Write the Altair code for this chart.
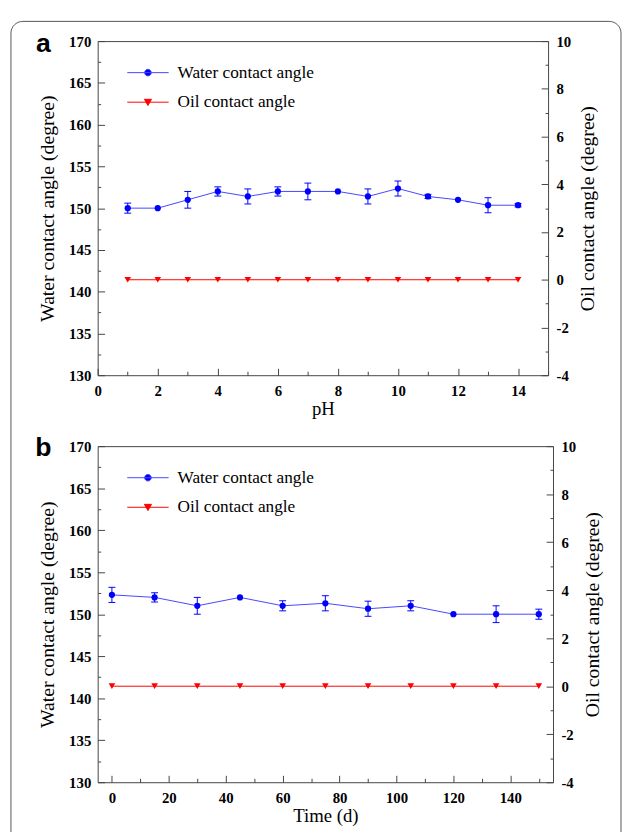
import altair as alt
import pandas as pd

# ---------------- data ----------------
SERIES = ["Water contact angle", "Oil contact angle"]

PH = [1, 2, 3, 4, 5, 6, 7, 8, 9, 10, 11, 12, 13, 14]
PH_WATER = [150.0, 150.0, 151.0, 152.0, 151.4, 152.0, 152.0, 152.0, 151.4, 152.35, 151.4, 151.0, 150.35, 150.35]
PH_WATER_ERR = [0.6, 0.0, 1.0, 0.55, 0.9, 0.55, 1.0, 0.0, 0.9, 0.9, 0.25, 0.0, 0.9, 0.2]
PH_OIL = [0, 0, 0, 0, 0, 0, 0, 0, 0, 0, 0, 0, 0, 0]

DAYS = [0, 15, 30, 45, 60, 75, 90, 105, 120, 135, 150]
DAY_WATER = [152.3, 152.0, 151.0, 152.0, 151.0, 151.3, 150.65, 151.0, 150.0, 150.0, 150.0]
DAY_WATER_ERR = [0.9, 0.55, 1.0, 0.0, 0.6, 0.9, 0.9, 0.6, 0.0, 1.0, 0.6]
DAY_OIL = [0, 0, 0, 0, 0, 0, 0, 0, 0, 0, 0]

PH_TICKS = [0, 1, 2, 3, 4, 5, 6, 7, 8, 9, 10, 11, 12, 13, 14, 15]
DAY_TICKS = [0, 10, 20, 30, 40, 50, 60, 70, 80, 90, 100, 110, 120, 130, 140, 150]
WATER_TICKS = [130, 132.5, 135, 137.5, 140, 142.5, 145, 147.5, 150, 152.5,
               155, 157.5, 160, 162.5, 165, 167.5, 170]
OIL_TICKS = [-4, -3, -2, -1, 0, 1, 2, 3, 4, 5, 6, 7, 8, 9, 10]

# ---------------- styling ----------------
SERIF = "Liberation Serif"
BLUE = "#0000ff"
LINE_BLUE = "#4646ff"
RED = "#ff0000"
FRAME = "#444444"

WATER_SYM = "M-2,0H2M0.32,0A0.32,0.32,0,1,1,-0.32,0A0.32,0.32,0,1,1,0.32,0Z"
OIL_SYM = "M-2,0H2M-0.34,-0.28L0.34,-0.28L0,0.32Z"

COMMON = dict(offset=-7, tickSize=7, domain=False, grid=False, tickColor=FRAME,
              tickWidth=1, labelFont=SERIF, labelFontWeight="bold", labelFontSize=15,
              labelColor="black", labelOverlap=False, labelFlush=False,
              titleFont=SERIF, titleFontWeight="normal", titleColor="black")


def minor_dash(step, gap, dash):
    return {"condition": {"test": f"datum.value % {step} !== 0", "value": [0, gap, dash, 0]},
            "value": [7, 0]}


def panel(xs, water, err, oil, xticks, major, xdomain, xtitle, letter, width, height,
          letter_y, frame):
    df = pd.DataFrame({"x": xs, "w": water, "e": err, "o": oil})
    df["lo"] = df["w"] - df["e"]
    df["hi"] = df["w"] + df["e"]

    X = alt.X("x:Q", scale=alt.Scale(domain=xdomain, nice=False, zero=False),
              axis=alt.Axis(values=xticks,
                            labelExpr=f"datum.value % {major} === 0 ? format(datum.value, 'd') : ''",
                            tickDash=minor_dash(major, 3, 4), labelPadding=9,
                            title=xtitle, titlePadding=1, titleFontSize=19, **COMMON))

    def Yw(field):
        return alt.Y(f"{field}:Q", scale=alt.Scale(domain=[130, 170], nice=False, zero=False),
                     axis=alt.Axis(orient="left", values=WATER_TICKS,
                                   labelExpr="datum.value % 5 === 0 ? format(datum.value, 'd') : ''",
                                   tickDash=minor_dash(5, 4, 3), labelPadding=7,
                                   title="Water contact angle (degree)", titleAngle=270,
                                   titleX=-58, titleY=height / 2, titleAlign="center",
                                   titleBaseline="middle", titleFontSize=20, **COMMON))

    Yo = alt.Y("o:Q", scale=alt.Scale(domain=[-4, 10], nice=False, zero=False),
               axis=alt.Axis(orient="right", values=OIL_TICKS,
                             labelExpr="datum.value % 2 === 0 ? '' + datum.value : ''",
                             tickDash=minor_dash(2, 4, 3), labelPadding=8,
                             title="Oil contact angle (degree)", titleAngle=270,
                             titleX=47, titleY=height / 2, titleAlign="center",
                             titleBaseline="middle", titleFontSize=20, **COMMON))

    base = alt.Chart(df)
    line = base.mark_line(color=LINE_BLUE, strokeWidth=1).encode(x=X, y=Yw("w"))
    bars = base.transform_filter("datum.e > 0").mark_rule(color=BLUE, strokeWidth=1).encode(
        x=X, y=Yw("lo"), y2="hi:Q")
    caps = base.transform_filter("datum.e > 0").transform_fold(
        ["lo", "hi"], as_=["k", "v"]).mark_tick(
        color=BLUE, orient="horizontal", size=7, thickness=1, opacity=1).encode(x=X, y=Yw("v"))
    pts = base.mark_point(filled=True, shape="circle", size=40, color=BLUE, opacity=1).encode(
        x=X, y=Yw("w"))

    leg_props = dict(orient="none", legendX=40, legendY=21, title=None, padding=0,
                     labelFont=SERIF, labelFontSize=17.5, labelColor="black",
                     labelOffset=19, rowPadding=10, symbolStrokeWidth=1, symbolSize=441)
    legend = alt.Chart(pd.DataFrame({"s": SERIES})).transform_filter("false").mark_point(
        filled=True, size=441, opacity=1, strokeWidth=1).encode(
        color=alt.Color("s:N", scale=alt.Scale(domain=SERIES, range=[BLUE, RED]),
                        legend=alt.Legend(**leg_props)),
        stroke=alt.Stroke("s:N", scale=alt.Scale(domain=SERIES, range=[LINE_BLUE, RED]),
                          legend=alt.Legend(**leg_props)),
        shape=alt.Shape("s:N", scale=alt.Scale(domain=SERIES, range=[WATER_SYM, OIL_SYM]),
                        legend=alt.Legend(**leg_props)),
    )

    letter_txt = alt.Chart(pd.DataFrame({"t": [letter]})).mark_text(
        font="Liberation Sans", fontWeight="bold", fontSize=27, align="center",
        baseline="alphabetic", color="black").encode(
        text="t:N", x=alt.value(-55), y=alt.value(letter_y))

    layers = []
    if frame:
        layers.append(alt.Chart(pd.DataFrame({"k": [0]})).mark_rect(
            fill="white", fillOpacity=0, stroke="#555555", strokeWidth=1,
            cornerRadius=12).encode(x=alt.value(-88), x2=alt.value(531),
                                    y=alt.value(-20), y2=alt.value(870)))
    layers += [line, bars, caps, pts, legend, letter_txt]
    water_group = alt.layer(*layers)

    oil_line = base.mark_line(color=RED, strokeWidth=1).encode(x=X, y=Yo)
    oil_pts = base.mark_point(filled=True, shape="triangle-down", size=45, color=RED,
                              opacity=1).encode(x=X, y=Yo)
    oil_group = alt.layer(oil_line, oil_pts)

    return alt.layer(water_group, oil_group).resolve_scale(y="independent").properties(
        width=width, height=height)


pa = panel(PH, PH_WATER, PH_WATER_ERR, PH_OIL, PH_TICKS, 2, [0, 15], "pH", "a",
           457, 339, 11, True)
pb = panel(DAYS, DAY_WATER, DAY_WATER_ERR, DAY_OIL, DAY_TICKS, 20, [-5, 155], "Time (d)", "b",
           462, 341, 10, False)

chart = alt.vconcat(pa, pb, spacing=72, bounds="flush").resolve_scale(
    color="independent", stroke="independent", shape="independent"
).properties(
    padding={"left": 2, "top": 6, "right": 0, "bottom": 0},
    background="white",
).configure_view(stroke=FRAME, strokeWidth=1)

chart.save("out.html", embed_options={"renderer": "svg", "actions": False})
